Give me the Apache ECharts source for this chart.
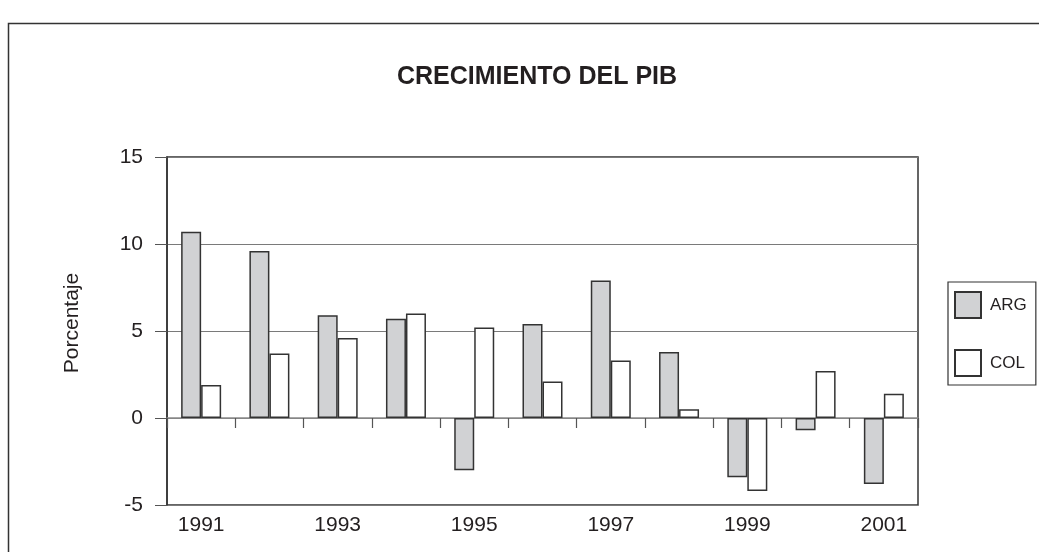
<!DOCTYPE html>
<html>
<head>
<meta charset="utf-8">
<script src="https://cdn.jsdelivr.net/npm/echarts@6/dist/echarts.min.js"></script>
<style>
    html, body { margin: 0; padding: 0; background: #fff; }
    #chart { width: 1039px; height: 552px; }
</style>
</head>
<body>
<div id="chart"></div>
<script>
// datos (crecimiento anual del PIB, %)
var years = ['1991', '1992', '1993', '1994', '1995', '1996', '1997', '1998', '1999', '2000', '2001'];
var arg = [10.7, 9.6, 5.9, 5.7, -3.0, 5.4, 7.9, 3.8, -3.4, -0.7, -3.8];
var col = [1.9, 3.7, 4.6, 6.0, 5.2, 2.1, 3.3, 0.5, -4.2, 2.7, 1.4];
var yTicks = [-5, 0, 5, 10, 15];

var font = 'Liberation Sans, Arial, sans-serif';
var chart = echarts.init(document.getElementById('chart'));
chart.setOption({
    animation: false,
    backgroundColor: '#fff',
    textStyle: { fontFamily: font },
    graphic: [{
        type: 'rect',
        shape: { x: 8.5, y: 23.5, width: 1100, height: 700 },
        style: { fill: 'none', stroke: '#333', lineWidth: 1.5 },
        silent: true
    }],
    title: {
        text: 'CRECIMIENTO DEL PIB',
        left: 532,
        textAlign: 'center',
        top: 60,
        textStyle: { fontSize: 25, fontWeight: 'bold', color: '#231f20', fontFamily: font }
    },
    legend: {
        orient: 'vertical',
        left: 948,
        top: 282,
        padding: [9, 9, 8, 6],
        itemWidth: 26,
        itemHeight: 26,
        itemGap: 30,
        borderColor: '#333',
        borderWidth: 1.2,
        icon: 'rect',
        textStyle: { fontSize: 17, color: '#231f20', fontFamily: font, padding: [0, 0, 0, 4] },
        data: ['ARG', 'COL']
    },
    grid: {
        left: 167,
        right: 121,
        top: 157,
        bottom: 47,
        show: true,
        borderColor: '#333',
        borderWidth: 1.5
    },
    xAxis: [{
        type: 'category',
        data: years,
        position: 'bottom',
        axisLine: { show: false, onZero: false },
        axisTick: { show: false },
        axisLabel: { interval: 1, fontSize: 21, color: '#231f20', margin: 10 }
    }, {
        type: 'category',
        data: years,
        position: 'bottom',
        axisLine: { show: true, onZero: true, lineStyle: { color: '#8a8a8a', width: 1.5 } },
        axisTick: { show: true, length: 10, lineStyle: { color: '#555', width: 1.2 } },
        axisLabel: { show: false }
    }],
    yAxis: {
        type: 'value',
        min: yTicks[0],
        max: yTicks[yTicks.length - 1],
        interval: 5,
        name: 'Porcentaje',
        nameLocation: 'middle',
        nameGap: 84,
        nameTextStyle: { fontSize: 21, color: '#231f20', padding: [0, 0, 0, 16] },
        axisLine: { show: true, lineStyle: { color: '#333', width: 1.5 } },
        axisTick: { show: true, length: 12, lineStyle: { color: '#555' } },
        axisLabel: { fontSize: 21, color: '#231f20', margin: 24 },
        splitLine: { show: true, lineStyle: { color: '#7a7a7a', width: 1.2 } }
    },
    series: [{
        name: 'ARG',
        type: 'bar',
        data: arg,
        barWidth: 20,
        barGap: '0%',
        itemStyle: { color: '#d1d2d4', borderColor: '#333', borderWidth: 1.5 }
    }, {
        name: 'COL',
        type: 'bar',
        data: col,
        barWidth: 20,
        itemStyle: { color: '#fff', borderColor: '#333', borderWidth: 1.5 }
    }]
});
</script>
</body>
</html>
